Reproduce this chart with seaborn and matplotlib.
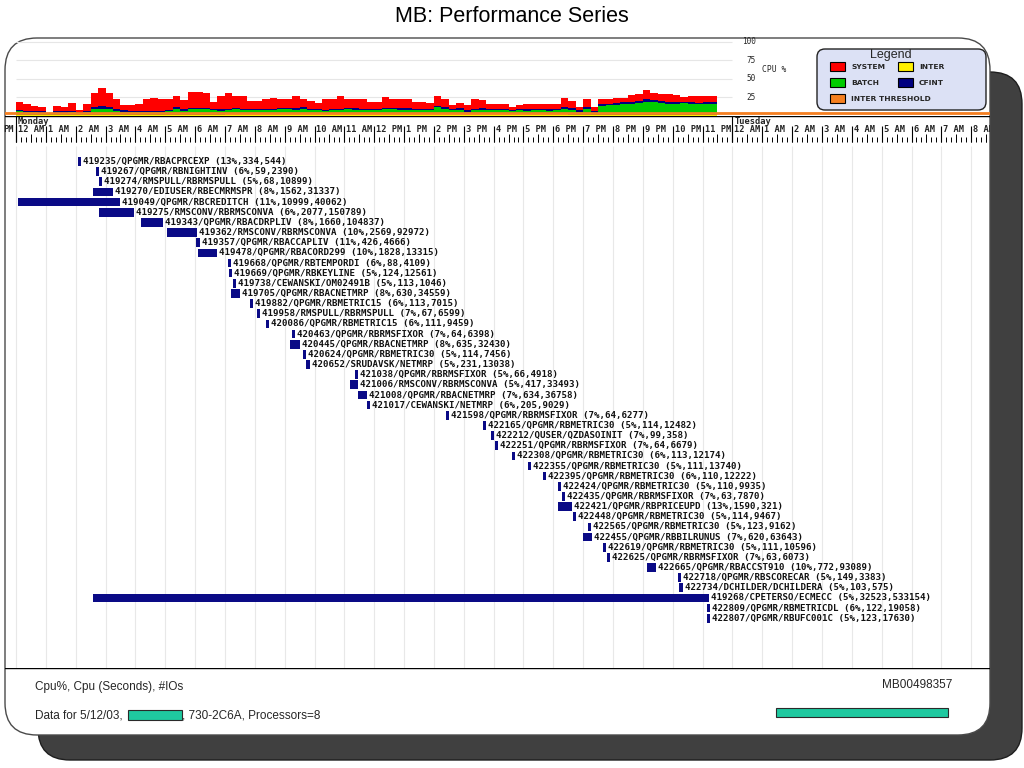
import numpy as np
import pandas as pd
import matplotlib
matplotlib.use("Agg")
import matplotlib.pyplot as plt
from matplotlib.patches import FancyBboxPatch, Rectangle
from matplotlib.transforms import IdentityTransform, offset_copy
import seaborn as sns

# CPU % per 15 minute interval, Monday 00:00 -> 23:30
cpu_system = [10.5, 8.5, 6.5, 6.5, 0.5, 7.5, 6.5, 10.5, 2.5, 8.5, 19.5, 24.5, 18.5, 12.5, 6.5, 7.5,
              8.5, 16.5, 17.5, 16.5, 14.5, 14.5, 12.5, 21.5, 21.5, 20.5, 9.5, 17.5, 21.5, 15.5, 17, 10.5,
              10.5, 13, 15, 12.5, 11.5, 16, 11, 10.5, 8, 15, 14, 16.5, 12.5, 12, 13, 10,
              10, 14.5, 12.5, 13, 13, 10, 10, 8, 14, 11, 5, 7, 7, 13, 11, 6,
              6, 6, 4, 5, 6.5, 6.5, 5.5, 6.5, 5.5, 12.5, 10, 5, 11, 5, 7, 6,
              7, 6, 9, 9, 13, 10, 9, 10, 9, 6, 9, 10, 8, 8]
cpu_cfint = [2] * 10 + [3] * 5 + [2] * 65 + [3] * 9 + [2] * 5
cpu_batch = [5, 4, 4, 3, 1, 3, 3, 4, 2, 4, 8, 9, 8, 6, 4, 4,
             4, 4, 4, 4, 5, 9, 6, 8, 8, 8, 7, 6, 5, 6, 5, 5,
             5, 5, 5, 6, 6, 6, 7, 5, 5, 4, 5, 5, 6, 6, 5, 5,
             5, 6, 6, 6, 6, 5, 5, 5, 8, 6, 4, 5, 3, 5, 6, 5,
             5, 5, 4, 5, 5, 6, 6, 5, 6, 8, 7, 4, 8, 3, 12, 13,
             13, 14, 15, 16, 18, 17, 16, 15, 15, 16, 15, 14, 15, 15]
cpu_inter = ([0.5] * 28
             + [2.5, 2.5, 2, 2.5, 2.5, 2, 2, 2.5, 2.5, 2, 2, 2.5, 2, 2, 2, 2.5, 2.5, 2, 2, 2]
             + [2, 2.5, 2.5, 2, 2, 2, 2, 2, 3, 3, 3, 3, 2, 2, 2, 2]
             + [2, 2, 2, 2, 1.5, 1.5, 1.5, 1.5, 1.5, 1.5, 1, 1]
             + [1] * 18)
inter_threshold = 4
cpu_ticks = [100, 75, 50, 25]

# time axis (hours from Monday 00:00)
hour_ticks = list(range(0, 33))
hour_labels = ["12 AM", "1 AM", "2 AM", "3 AM", "4 AM", "5 AM", "6 AM", "7 AM", "8 AM", "9 AM", "10 AM", "11 AM",
               "12 PM", "1 PM", "2 PM", "3 PM", "4 PM", "5 PM", "6 PM", "7 PM", "8 PM", "9 PM", "10 PM", "11 PM",
               "12 AM", "1 AM", "2 AM", "3 AM", "4 AM", "5 AM", "6 AM", "7 AM", "8 AM"]
prev_label = "PM"   # tail of the 11 PM label of the previous day
day_ticks = [0, 24]
day_labels = ["Monday", "Tuesday"]

# jobs
job_ids = [419235, 419267, 419274, 419270, 419049, 419275, 419343, 419362, 419357, 419478,
           419668, 419669, 419738, 419705, 419882, 419958, 420086, 420463, 420445, 420624,
           420652, 421038, 421006, 421008, 421017, 421598, 422165, 422212, 422251, 422308,
           422355, 422395, 422424, 422435, 422421, 422448, 422565, 422455, 422619, 422625,
           422665, 422718, 422734, 419268, 422809, 422807]
job_users = ["QPGMR", "QPGMR", "RMSPULL", "EDIUSER", "QPGMR", "RMSCONV", "QPGMR", "RMSCONV", "QPGMR", "QPGMR",
             "QPGMR", "QPGMR", "CEWANSKI", "QPGMR", "QPGMR", "RMSPULL", "QPGMR", "QPGMR", "QPGMR", "QPGMR",
             "SRUDAVSK", "QPGMR", "RMSCONV", "QPGMR", "CEWANSKI", "QPGMR", "QPGMR", "QUSER", "QPGMR", "QPGMR",
             "QPGMR", "QPGMR", "QPGMR", "QPGMR", "QPGMR", "QPGMR", "QPGMR", "QPGMR", "QPGMR", "QPGMR",
             "QPGMR", "QPGMR", "DCHILDER", "CPETERSO", "QPGMR", "QPGMR"]
job_programs = ["RBACPRCEXP", "RBNIGHTINV", "RBRMSPULL", "RBECMRMSPR", "RBCREDITCH", "RBRMSCONVA", "RBACDRPLIV",
                "RBRMSCONVA", "RBACCAPLIV", "RBACORD299", "RBTEMPORDI", "RBKEYLINE", "OM02491B", "RBACNETMRP",
                "RBMETRIC15", "RBRMSPULL", "RBMETRIC15", "RBRMSFIXOR", "RBACNETMRP", "RBMETRIC30", "NETMRP",
                "RBRMSFIXOR", "RBRMSCONVA", "RBACNETMRP", "NETMRP", "RBRMSFIXOR", "RBMETRIC30", "QZDASOINIT",
                "RBRMSFIXOR", "RBMETRIC30", "RBMETRIC30", "RBMETRIC30", "RBMETRIC30", "RBRMSFIXOR", "RBPRICEUPD",
                "RBMETRIC30", "RBMETRIC30", "RBBILRUNUS", "RBMETRIC30", "RBRMSFIXOR", "RBACCST910", "RBSCORECAR",
                "DCHILDERA", "ECMECC", "RBMETRICDL", "RBUFC001C"]
job_cpu_pct = [13, 6, 5, 8, 11, 6, 8, 10, 11, 10, 6, 5, 5, 8, 6, 7, 6, 7, 8, 5, 5, 5, 5, 7, 6,
               7, 5, 7, 7, 6, 5, 6, 5, 7, 13, 5, 5, 7, 5, 7, 10, 5, 5, 5, 6, 5]
job_cpu_sec = [334, 59, 68, 1562, 10999, 2077, 1660, 2569, 426, 1828, 88, 124, 113, 630, 113, 67, 111, 64,
               635, 114, 231, 66, 417, 634, 205, 64, 114, 99, 64, 113, 111, 110, 110, 63, 1590, 114, 123,
               620, 111, 63, 772, 149, 103, 32523, 122, 123]
job_ios = [544, 2390, 10899, 31337, 40062, 150789, 104837, 92972, 4666, 13315, 4109, 12561, 1046, 34559,
           7015, 6599, 9459, 6398, 32430, 7456, 13038, 4918, 33493, 36758, 9029, 6277, 12482, 358, 6679,
           12174, 13740, 12222, 9935, 7870, 321, 9467, 9162, 63643, 10596, 6073, 93089, 3383, 575, 533154,
           19058, 17630]
job_start = [2.09, 2.68, 2.77, 2.58, 0.06, 2.78, 4.19, 5.06, 6.03, 6.10, 7.10, 7.14, 7.27, 7.19, 7.84, 8.09,
             8.36, 9.25, 9.18, 9.61, 9.72, 11.36, 11.19, 11.46, 11.76, 14.41, 15.64, 15.91, 16.05, 16.62,
             17.15, 17.65, 18.16, 18.29, 18.16, 18.66, 19.16, 18.99, 19.66, 19.80, 21.14, 22.18, 22.21,
             2.58, 23.15, 23.15]
job_end = [2.19, 2.78, 2.87, 3.25, 3.48, 3.95, 4.92, 6.06, 6.15, 6.73, 7.20, 7.24, 7.37, 7.50, 7.94, 8.19,
           8.46, 9.35, 9.51, 9.72, 9.85, 11.46, 11.46, 11.76, 11.86, 14.51, 15.74, 16.01, 16.15, 16.72,
           17.25, 17.75, 18.26, 18.39, 18.63, 18.76, 19.26, 19.30, 19.76, 19.90, 21.44, 22.28, 22.33,
           23.23, 23.25, 23.25]

colors = {"SYSTEM": "#FF0000", "CFINT": "#000080", "BATCH": "#00CC00", "INTER": "#FFF000"}
orange = "#F57F20"
navy = "#0A0A86"
teal = "#1FC9A0"

# layout in pixels
W, H = 1024, 768
PPH = 29.85   # pixels per hour
X0 = 16       # x pixel of Monday 00:00

sns.set_theme(style="white")
plt.rcParams["font.family"] = ["Liberation Sans", "DejaVu Sans"]
MONO = "DejaVu Sans Mono"
NARROW = ["Liberation Sans Narrow", "Liberation Sans"]

fig = plt.figure(figsize=(W / 100, H / 100), dpi=100)
fig.patch.set_facecolor("white")


def px_axes(x0, y0, x1, y1):
    ax = fig.add_axes([x0 / W, 1 - y1 / H, (x1 - x0) / W, (y1 - y0) / H])
    ax.set_axis_off()
    return ax


def ftext(x, y, s, **kw):
    return fig.text(x / W, 1 - y / H, s, **kw)


def hours(xpx):
    return (xpx - X0) / PPH


# background panels
fig.add_artist(FancyBboxPatch((38, H - 760), 984, 688, boxstyle="round,pad=0,rounding_size=32",
                              fc="#404040", ec="#1E1E1E", lw=1, transform=IdentityTransform(), zorder=-3))
fig.add_artist(FancyBboxPatch((5, H - 735), 985, 697, boxstyle="round,pad=0,rounding_size=32",
                              fc="white", ec="#4A4A4A", lw=1, transform=IdentityTransform(), zorder=-2))

ftext(512, 16, "MB: Performance Series", ha="center", va="center", fontsize=15.5, color="black")

# CPU % stacked bars
ax_cpu = px_axes(5, 38, 990, 115.5)
n_bins = len(cpu_system)
bin_hours = np.arange(n_bins) * 0.25 + 0.125
kinds = ["SYSTEM", "CFINT", "BATCH", "INTER"]
cpu_df = pd.DataFrame({
    "hour": np.tile(bin_hours, 4),
    "pct": cpu_system + cpu_cfint + cpu_batch + cpu_inter,
    "kind": np.repeat(kinds, n_bins),
})
ax_cpu.hlines(cpu_ticks, 0, 24, color="#E6E6E6", lw=0.8, zorder=0)
sns.histplot(cpu_df, x="hour", weights="pct", hue="kind", hue_order=kinds, multiple="stack",
             binwidth=0.25, binrange=(0, 23.5), palette=colors, alpha=1, linewidth=0,
             legend=False, ax=ax_cpu)
ax_cpu.axhline(inter_threshold, color=orange, lw=2, zorder=5)
ax_cpu.set_xlim(hours(5), hours(990))
ax_cpu.set_ylim(0, (115.5 - 38) / 0.735)
ax_cpu.set_axis_off()
for v in cpu_ticks:
    ax_cpu.text(hours(756), v, str(v), ha="right", va="center", fontsize=5.6, family=MONO)
ax_cpu.text(hours(762), 62, "CPU %", ha="left", va="center", fontsize=5.8, family=MONO)

# time axis band
ax_t = px_axes(5, 115.5, 990, 146)
ax_t.set_xlim(hours(5), hours(990))
ax_t.set_ylim(30.5, 0)
ax_t.axhline(0, color="black", lw=1)
ax_t.vlines(np.arange(0, 33, 1 / 6), 21.5, 26.5, color="black", lw=0.7)
ax_t.vlines(np.arange(0.5, 33, 1), 18.5, 26.5, color="black", lw=0.7)
ax_t.vlines(hour_ticks, 10.5, 26.5, color="black", lw=0.8)
ax_t.vlines(day_ticks, 0, 26.5, color="black", lw=0.8)
shift = offset_copy(ax_t.transData, fig=fig, x=2, y=0, units="dots")
back = offset_copy(ax_t.transData, fig=fig, x=-2, y=0, units="dots")
fig.text(3 / W, 1 - 130 / H, prev_label, ha="left", va="center", fontsize=6.3,
         family=MONO, fontweight="bold")
for h, lab in zip(hour_ticks, hour_labels):
    ax_t.text(h, 14.5, lab, transform=shift, ha="left", va="center", fontsize=6.3,
              family=MONO, fontweight="bold", clip_on=True)
for h, lab in zip(day_ticks, day_labels):
    ax_t.text(h, 5.5, lab, transform=shift, ha="left", va="center", fontsize=6.3,
              family=MONO, fontweight="bold", clip_on=True)

# job timeline
ax_g = px_axes(5, 146, 990, 668)
ax_g.set_xlim(hours(5), hours(990))
row_step = 10.15
ax_g.set_ylim((668 - 161.5) / row_step, (146 - 161.5) / row_step)
ax_g.vlines(np.arange(0, 33), (668 - 161.5) / row_step, (146 - 161.5) / row_step,
            color="#E8E8E8", lw=0.8, zorder=0)
rows = np.arange(len(job_ids))
starts = np.array(job_start)
ends = np.array(job_end)
ax_g.barh(rows, ends - starts, left=starts, height=0.85, color=navy, linewidth=0, zorder=2)
lshift = offset_copy(ax_g.transData, fig=fig, x=2, y=0, units="dots")
for r, e, jid, usr, prg, pct, sec, ios in zip(rows, ends, job_ids, job_users, job_programs,
                                               job_cpu_pct, job_cpu_sec, job_ios):
    ax_g.text(e, r, f"{jid}/{usr}/{prg} ({pct}%,{sec},{ios})", transform=lshift,
              ha="left", va="center", fontsize=6.6, family=MONO, fontweight="bold", color="#111111")

# footer
ax_f = px_axes(5, 668, 990, 700)
ax_f.set_ylim(1, 0)
ax_f.axhline(0, color="black", lw=1)
ftext(35, 687, "Cpu%, Cpu (Seconds), #IOs", va="center", fontsize=8.5, family=NARROW)
ftext(952, 685, "MB00498357", ha="right", va="center", fontsize=8.5, family=NARROW)
ftext(35, 716, "Data for 5/12/03,", va="center", fontsize=8.5, family=NARROW)
ftext(182, 716, ", 730-2C6A, Processors=8", va="center", fontsize=8.5, family=NARROW)
fig.add_artist(Rectangle((128, H - 720), 54, 10, fc=teal, ec="#2A2A2A", lw=0.8,
                         transform=IdentityTransform(), zorder=5))
fig.add_artist(Rectangle((776, H - 717), 172, 9, fc=teal, ec="#2A2A2A", lw=0.8,
                         transform=IdentityTransform(), zorder=5))

# legend box
fig.add_artist(FancyBboxPatch((817, H - 110), 169, 61, boxstyle="round,pad=0,rounding_size=8",
                              fc="#DCE1F5", ec="#222222", lw=1, transform=IdentityTransform(), zorder=5))
ftext(891, 55, "Legend", ha="center", va="center", fontsize=9, zorder=7)
legend_items = [("SYSTEM", colors["SYSTEM"], 830, 62), ("INTER", colors["INTER"], 898, 62),
                ("BATCH", colors["BATCH"], 830, 78), ("CFINT", colors["CFINT"], 898, 78),
                ("INTER THRESHOLD", orange, 830, 94)]
for lab, col, sx, sy in legend_items:
    fig.add_artist(Rectangle((sx, H - sy - 9), 15, 9, fc=col, ec="black", lw=0.8,
                             transform=IdentityTransform(), zorder=6))
    ftext(sx + 21, sy + 5, lab, ha="left", va="center", fontsize=5.4, fontweight="bold",
          family="DejaVu Sans", zorder=7)

fig.savefig("out.png", dpi=100)
